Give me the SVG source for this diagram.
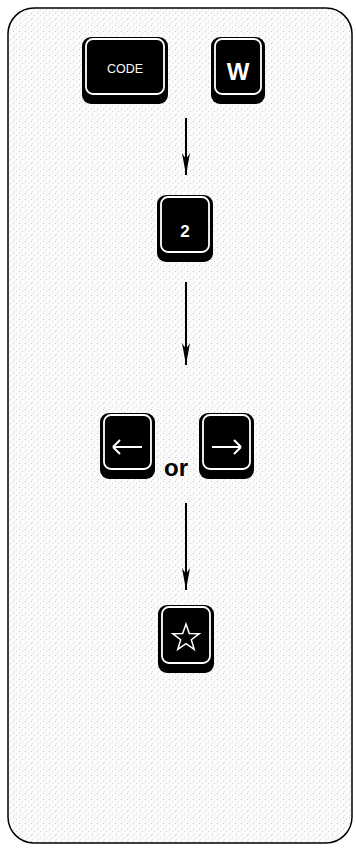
<svg xmlns="http://www.w3.org/2000/svg" width="356" height="850" viewBox="0 0 356 850">
<defs>
<pattern id="stip" width="6" height="6" patternUnits="userSpaceOnUse">
<rect width="6" height="6" fill="#fbfbfb"/>
<rect x="1" y="1" width="1" height="1" fill="#c8c8c8"/>
<rect x="4" y="3" width="1" height="1" fill="#d4d4d4"/>
<rect x="2" y="5" width="1" height="1" fill="#dcdcdc"/>
</pattern>
<marker id="ah" markerWidth="24" markerHeight="8" refX="22" refY="4" orient="auto" markerUnits="userSpaceOnUse">
<path d="M0,0 L22,4 L0,8 L6,4 Z" fill="#000"/>
</marker>
<style>
.key{fill:#000}
.face{fill:#000;stroke:#fff;stroke-width:1.8}
.lbl{fill:#fff;font-family:"Liberation Sans",Arial,sans-serif;text-anchor:middle}
.conn{stroke:#000;stroke-width:2;fill:none}
</style>
</defs>
<rect x="8" y="8" width="344" height="835" rx="26" fill="url(#stip)" stroke="#000" stroke-width="1.5"/>
<g id="connectors">
<path class="conn" d="M186,118 V175" marker-end="url(#ah)"/>
<path class="conn" d="M186,282 V365" marker-end="url(#ah)"/>
<path class="conn" d="M186,503 V590" marker-end="url(#ah)"/>
</g>
<g id="key-code">
<rect class="key" x="82" y="37" width="86" height="67" rx="9"/>
<rect class="face" x="86" y="39" width="78" height="55" rx="7"/>
<text class="lbl" x="125" y="73" font-size="13" textLength="36" lengthAdjust="spacingAndGlyphs">CODE</text>
</g>
<g id="key-w">
<rect class="key" x="211" y="37" width="54" height="67" rx="9"/>
<rect class="face" x="215" y="39" width="46" height="55" rx="7"/>
<text class="lbl" x="238" y="80" font-size="24" font-weight="bold">W</text>
</g>
<g id="key-2">
<rect class="key" x="157" y="195" width="56" height="67" rx="9"/>
<rect class="face" x="161" y="197" width="48" height="55" rx="7"/>
<text class="lbl" x="185" y="237" font-size="17" font-weight="bold">2</text>
</g>
<g id="key-left">
<rect class="key" x="100" y="413" width="55" height="66" rx="9"/>
<rect class="face" x="104" y="415" width="47" height="54" rx="7"/>
<path d="M113,447 H142 M113,447 l7,-7 M113,447 l7,7" stroke="#fff" stroke-width="2" fill="none"/>
</g>
<g id="text-or">
<text x="176" y="476" font-family="Liberation Sans,Arial,sans-serif" font-size="24" font-weight="bold" text-anchor="middle" fill="#000">or</text>
</g>
<g id="key-right">
<rect class="key" x="199" y="413" width="55" height="66" rx="9"/>
<rect class="face" x="203" y="415" width="47" height="54" rx="7"/>
<path d="M212,447 H241 M241,447 l-7,-7 M241,447 l-7,7" stroke="#fff" stroke-width="2" fill="none"/>
</g>
<g id="key-star">
<rect class="key" x="158" y="605" width="56" height="68" rx="9"/>
<rect class="face" x="162" y="607" width="48" height="56" rx="7"/>
<path d="M186,624 L189.3,633.5 L199.3,633.7 L191.3,639.7 L194.2,649.3 L186,643.6 L177.8,649.3 L180.7,639.7 L172.7,633.7 L182.7,633.5 Z" stroke="#fff" stroke-width="1.5" fill="none"/>
</g>
</svg>
